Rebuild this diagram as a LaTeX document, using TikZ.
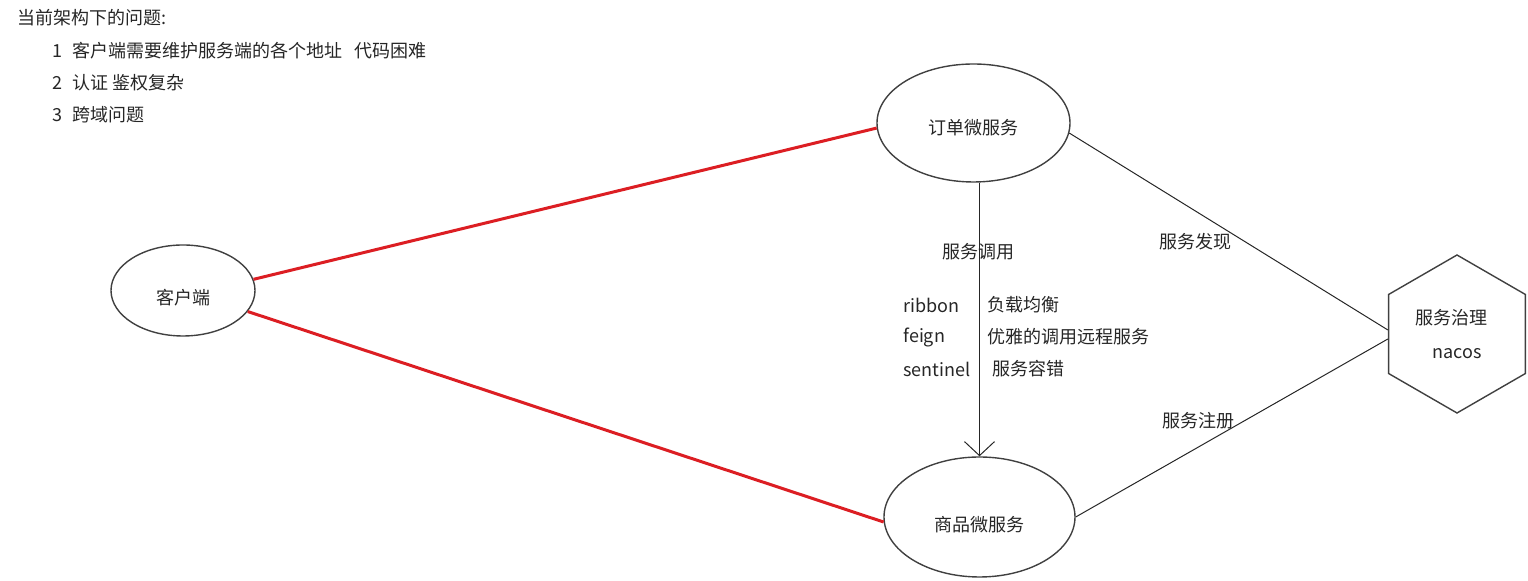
\documentclass[tikz,border=0pt]{standalone}
\usepackage{fontspec}
\setmainfont{Noto Sans CJK SC}
\usetikzlibrary{shapes.geometric,arrows.meta}
\begin{document}
\begin{tikzpicture}[x=0.5pt,y=-0.5pt,
  every node/.style={inner sep=0pt,font=\fontsize{9}{11}\selectfont,text=black!85},
  every label/.style={inner sep=0pt,font=\fontsize{9}{11}\selectfont,text=black!85},
  svc/.style={draw=black!75,line width=0.7pt,ellipse},
  redline/.style={draw={rgb,255:red,220;green,30;blue,35},line width=1.5pt},
  thin/.style={draw=black!85,line width=0.5pt}]
\useasboundingbox (0,0) rectangle (1528,581);
% notes
\node[anchor=west] (title) at (17,18) {当前架构下的问题:};
\node[anchor=west] (p1) at (52,51) {1\hspace{5pt}客户端需要维护服务端的各个地址\hspace{6pt}代码困难};
\node[anchor=west] (p2) at (52,83) {2\hspace{5pt}认证 鉴权复杂};
\node[anchor=west] (p3) at (52,115) {3\hspace{5pt}跨域问题};
% services
\node[svc,minimum width=72pt,minimum height=45.5pt,
  label={[yshift=-3.5pt]center:客户端}] (client) at (183,290.5) {};
\node[svc,minimum width=96.5pt,minimum height=59pt,
  label={[yshift=-2.5pt]center:订单微服务}] (order) at (973.5,123) {};
\node[svc,minimum width=95.5pt,minimum height=60pt,
  label={[yshift=-4pt]center:商品微服务}] (product) at (979.5,517) {};
\node[draw=black!75,line width=0.7pt,regular polygon,regular polygon sides=6,
  shape border rotate=30,minimum size=79pt,align=center] (nacos) at (1457,334)
  {服务治理\hspace*{6pt}\\[6pt]nacos};
% connections
\draw[redline] (client.9) -- (order.183);
\draw[redline] (client.-18) -- (product.183);
\draw[thin,-{Straight Barb[length=7pt,width=15pt]}] (product.north |- order.south) -- (product.north);
\draw[thin] (order.-6) -- ([yshift=2pt]nacos.west);
\draw[thin] (product.east) -- ([yshift=-2.5pt]nacos.west);
% labels
\node (call) at (978,252) {服务调用};
\node (find) at (1195,242) {服务发现};
\node (reg) at (1198,421) {服务注册};
\node[anchor=west] (ribbon) at (903,305) {ribbon};
\node[anchor=west] (feign) at (903,337) {feign};
\node[anchor=west] (sentinel) at (903,369) {sentinel};
\node[anchor=west] (lb) at (987,305) {负载均衡};
\node[anchor=west] (rpc) at (987,337) {优雅的调用远程服务};
\node[anchor=west] (ft) at (992,369) {服务容错};
\end{tikzpicture}
\end{document}
